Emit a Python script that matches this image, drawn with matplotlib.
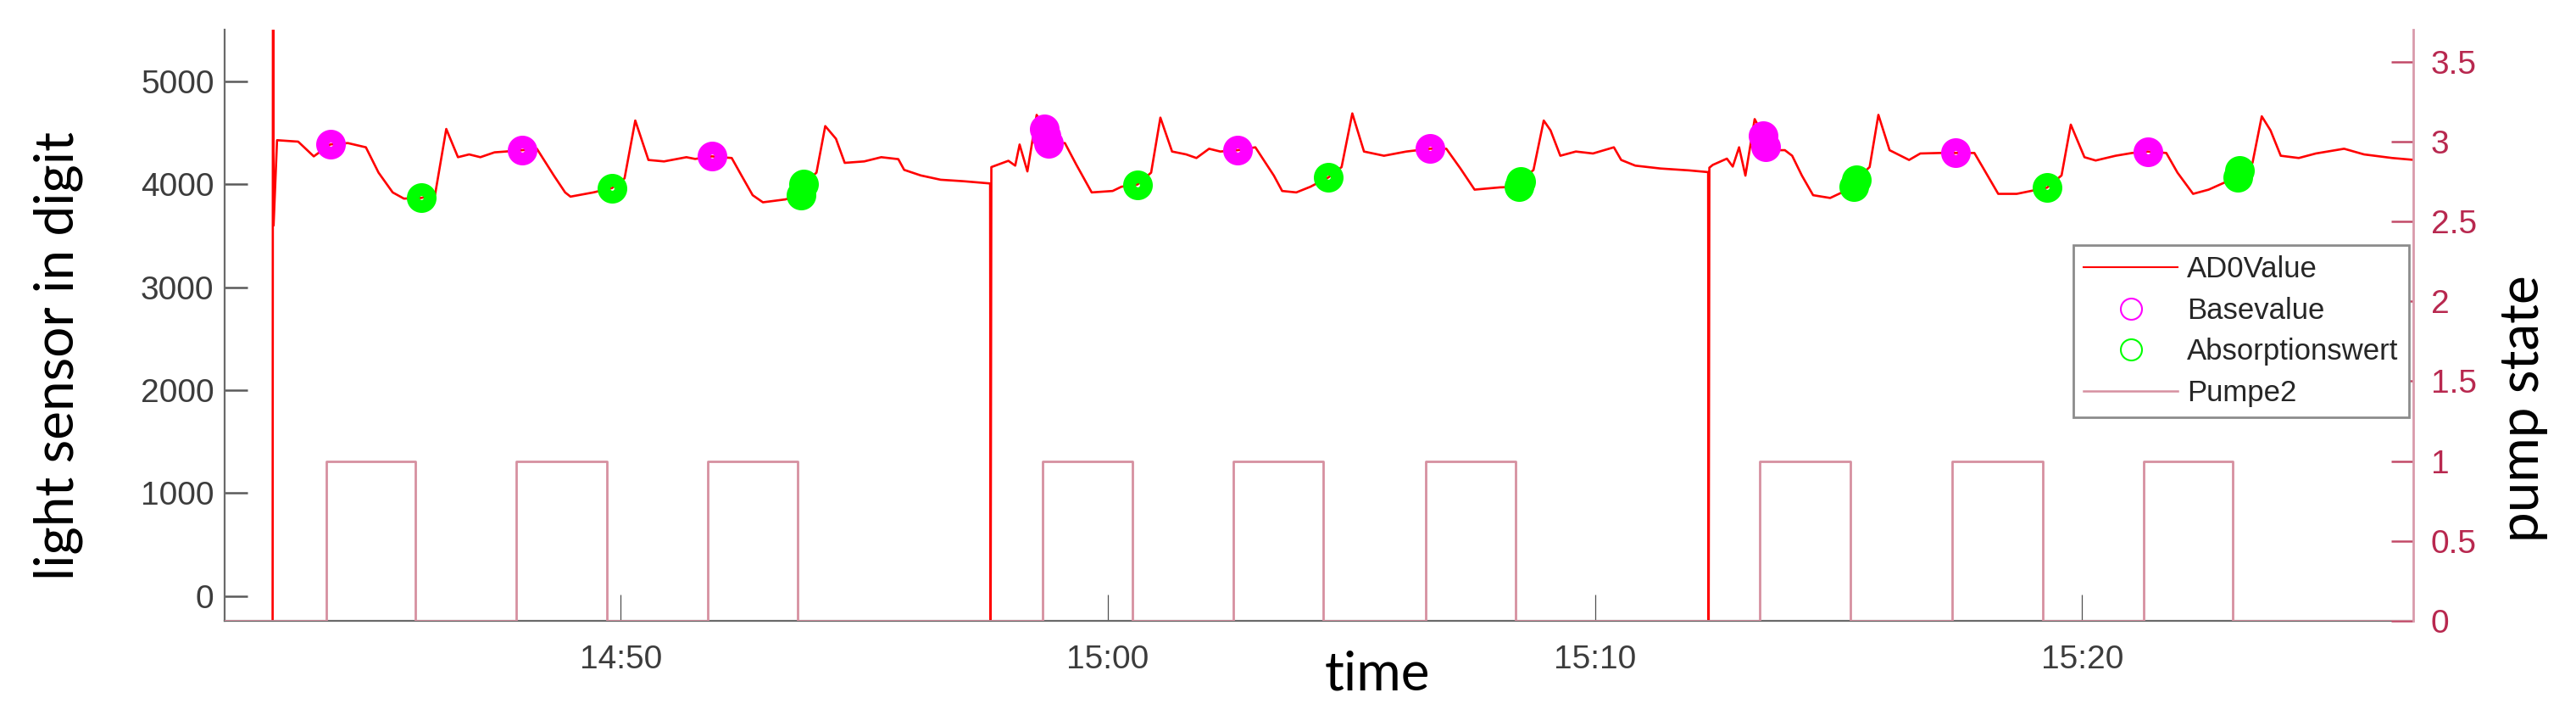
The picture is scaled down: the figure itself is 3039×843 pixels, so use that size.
import matplotlib
matplotlib.use('Agg')
import matplotlib.pyplot as plt
from matplotlib.lines import Line2D

# ---------------- data (time in minutes after 14:00) ----------------
ad0_time = [42.855, 42.865, 42.875, 42.946, 43.38, 43.70, 44.04, 44.40, 44.77, 45.03,
            45.32, 45.55, 45.90, 46.19, 46.42, 46.66, 46.89, 47.12, 47.41, 47.64,
            47.98, 48.28, 48.63, 48.86, 48.97, 49.44, 49.82, 50.08, 50.30, 50.57,
            50.89, 51.35, 51.53, 51.87, 52.28, 52.48, 52.71, 52.92, 53.38, 53.705,
            53.755, 54.02, 54.20, 54.42, 54.60, 55.00, 55.35, 55.70, 55.82, 56.16,
            56.57, 57.03, 57.585, 57.595, 57.61, 57.96, 58.10, 58.19, 58.35, 58.54,
            58.69, 58.79, 59.12, 59.35, 59.67, 60.10, 60.28, 60.61, 60.89, 61.08,
            61.32, 61.61, 61.82, 62.08, 62.31, 62.67, 63.03, 63.41, 63.58, 63.87,
            64.16, 64.53, 64.80, 65.02, 65.26, 65.67, 66.13, 66.62, 66.95, 67.24,
            67.53, 68.05, 68.44, 68.48, 68.74, 68.95, 69.09, 69.29, 69.61, 69.96,
            70.39, 70.54, 70.83, 71.35, 71.93, 72.325, 72.335, 72.35, 72.42, 72.71,
            72.83, 72.96, 73.09, 73.28, 73.46, 73.50, 73.61, 73.90, 74.05, 74.25,
            74.48, 74.83, 75.32, 75.36, 75.64, 75.82, 76.05, 76.45, 76.68, 77.09,
            77.41, 77.79, 77.96, 78.28, 78.66, 78.95, 79.28, 79.58, 79.77, 80.05,
            80.28, 80.69, 81.03, 81.35, 81.73, 81.96, 82.28, 82.60, 82.86, 83.19,
            83.23, 83.50, 83.69, 83.87, 84.08, 84.45, 84.80, 85.38, 85.79, 86.37,
            86.83]
ad0_value = [-400, 9000, 3600, 4427, 4413, 4270, 4386, 4399, 4358, 4112,
             3920, 3860, 3866, 3898, 4536, 4262, 4289, 4262, 4309, 4317,
             4330, 4344, 4083, 3920, 3879, 3920, 3962, 4057, 4618, 4235,
             4221, 4262, 4245, 4270, 4254, 4085, 3893, 3824, 3852, 3895,
             4000, 4112, 4564, 4441, 4207, 4221, 4262, 4243, 4139, 4085,
             4043, 4029, 4007, -400, 4166, 4227, 4180, 4385, 4124, 4673,
             4540, 4396, 4399, 4193, 3920, 3934, 3975, 3997, 4112, 4646,
             4317, 4289, 4254, 4344, 4317, 4330, 4358, 4083, 3934, 3920,
             3975, 4066, 4166, 4687, 4317, 4276, 4317, 4344, 4344, 4152,
             3947, 3969, 3975, 4030, 4139, 4618, 4522, 4276, 4317, 4298,
             4358, 4235, 4180, 4152, 4134, 4117, -400, 4160, 4187, 4248,
             4171, 4358, 4083, 4632, 4470, 4360, 4330, 4330, 4276, 4083,
             3893, 3866, 3975, 4045, 4166, 4673, 4330, 4235, 4298, 4303,
             4303, 4303, 4166, 3906, 3906, 3934, 3966, 4085, 4578, 4262,
             4230, 4276, 4303, 4317, 4303, 4112, 3906, 3947, 4002, 4070,
             4130, 4207, 4659, 4522, 4276, 4254, 4298, 4344, 4289, 4254,
             4235]

base_time = [44.04, 47.98, 51.87, 58.69, 58.74, 58.79, 62.67, 66.62, 73.46, 73.50, 77.41, 81.35]
base_value = [4386, 4330, 4270, 4540, 4468, 4396, 4330, 4344, 4470, 4360, 4303, 4317]

absorp_time = [45.90, 49.82, 53.705, 53.755, 60.61, 64.53, 68.44, 68.48, 75.32, 75.36, 79.28, 83.19, 83.23]
absorp_value = [3866, 3962, 3895, 4000, 3997, 4066, 3975, 4030, 3975, 4045, 3966, 4070, 4130]

pump_time = [41.87, 43.95, 45.78, 47.85, 49.71, 51.79, 53.63, 58.66, 60.50, 62.58,
             64.42, 66.53, 68.37, 73.39, 75.25, 77.33, 79.19, 81.26, 83.09, 86.8]
pump_state = [0, 1, 0, 1, 0, 1, 0, 1, 0, 1,
              0, 1, 0, 1, 0, 1, 0, 1, 0, 0]

x_ticks = [50, 60, 70, 80]
x_ticklabels = ['14:50', '15:00', '15:10', '15:20']
left_ticks = [0, 1000, 2000, 3000, 4000, 5000]
right_ticks = [0, 0.5, 1, 1.5, 2, 2.5, 3, 3.5]
right_ticklabels = ['0', '0.5', '1', '1.5', '2', '2.5', '3', '3.5']
legend_labels = ['AD0Value', 'Basevalue', 'Absorptionswert', 'Pumpe2']

# ---------------- layout ----------------
W, H = 3039, 843
fig = plt.figure(figsize=(W / 100, H / 100), dpi=100)
L, R, T, B = 265, 2847, 35, 732
ax = fig.add_axes([L / W, 1 - B / H, (R - L) / W, (B - T) / H])
ax2 = ax.twinx()

red = '#FF0000'
pump_col = '#D690A0'
right_col = '#B8284F'
gray = '#6A6A6A'
tickfont = 'Liberation Sans'

ax.plot(ad0_time, ad0_value, color=red, lw=1.9, zorder=2, solid_joinstyle='round')
ax.plot(base_time, base_value, ls='none', marker='o', ms=14.3, mfc='none',
        mec='#FF00FF', mew=10.9, zorder=3)
ax.plot(absorp_time, absorp_value, ls='none', marker='o', ms=14.3, mfc='none',
        mec='#00FF00', mew=10.9, zorder=3)
ax2.plot(pump_time, pump_state, color=pump_col, lw=2.0, drawstyle='steps-post', zorder=2)

ax.set_xlim(41.87, 86.8)
ax.set_ylim(-240, 5500)
ax2.set_ylim(0, 3.7)

for s in ['top', 'right']:
    ax.spines[s].set_visible(False)
for s in ['top', 'left', 'bottom']:
    ax2.spines[s].set_visible(False)
ax.spines['left'].set_color(gray)
ax.spines['left'].set_linewidth(1.6)
ax.spines['bottom'].set_color(gray)
ax.spines['bottom'].set_linewidth(1.6)
ax2.spines['right'].set_color('#D99AAB')
ax2.spines['right'].set_linewidth(2.0)

ax.set_xticks(x_ticks)
ax.set_xticklabels(x_ticklabels)
ax.set_yticks(left_ticks)
ax2.set_yticks(right_ticks)
ax2.set_yticklabels(right_ticklabels)

ax.tick_params(axis='y', direction='in', length=19.5, width=1.8, color='#5A5A5A',
               labelsize=28, labelcolor='#3C3C3C', pad=9)
ax.tick_params(axis='x', direction='in', length=22, width=0.9, color='#505050',
               labelsize=28, labelcolor='#3C3C3C', pad=20)
ax2.tick_params(axis='y', direction='in', length=19, width=1.8, color='#C24A68',
                labelsize=28, labelcolor=right_col, pad=15)
for lab in ax.get_xticklabels() + ax.get_yticklabels() + ax2.get_yticklabels():
    lab.set_family(tickfont)

handles = [Line2D([], [], color=red, lw=1.5),
           Line2D([], [], ls='none', marker='o', ms=18, mfc='none', mec='#FF00FF', mew=1.5),
           Line2D([], [], ls='none', marker='o', ms=18, mfc='none', mec='#00FF00', mew=1.5),
           Line2D([], [], color=pump_col, lw=1.8)]
leg = ax2.legend(handles, legend_labels, loc='upper right', bbox_to_anchor=(0.998, 0.6356),
                 prop={'family': tickfont, 'size': 25}, frameon=True, fancybox=False,
                 edgecolor='#8C8C8C', framealpha=1, borderaxespad=0, labelspacing=0.45,
                 handlelength=3.2, handletextpad=0.32, borderpad=0.35)
leg.get_frame().set_linewidth(2)
for t in leg.get_texts():
    t.set_color('#262626')

labfont = 'Lato'
fig.text(69 / W, 1 - 419.5 / H, 'light sensor in digit', rotation=90, ha='center', va='center',
         fontsize=46, family=labfont, color='black')
fig.text(2977 / W, 1 - 482 / H, 'pump state', rotation=90, ha='center', va='center',
         fontsize=46, family=labfont, color='black')
fig.text(1625 / W, 1 - 813 / H, 'time', ha='center', va='baseline',
         fontsize=46, family=labfont, color='black')

fig.savefig('out.png', dpi=100)
